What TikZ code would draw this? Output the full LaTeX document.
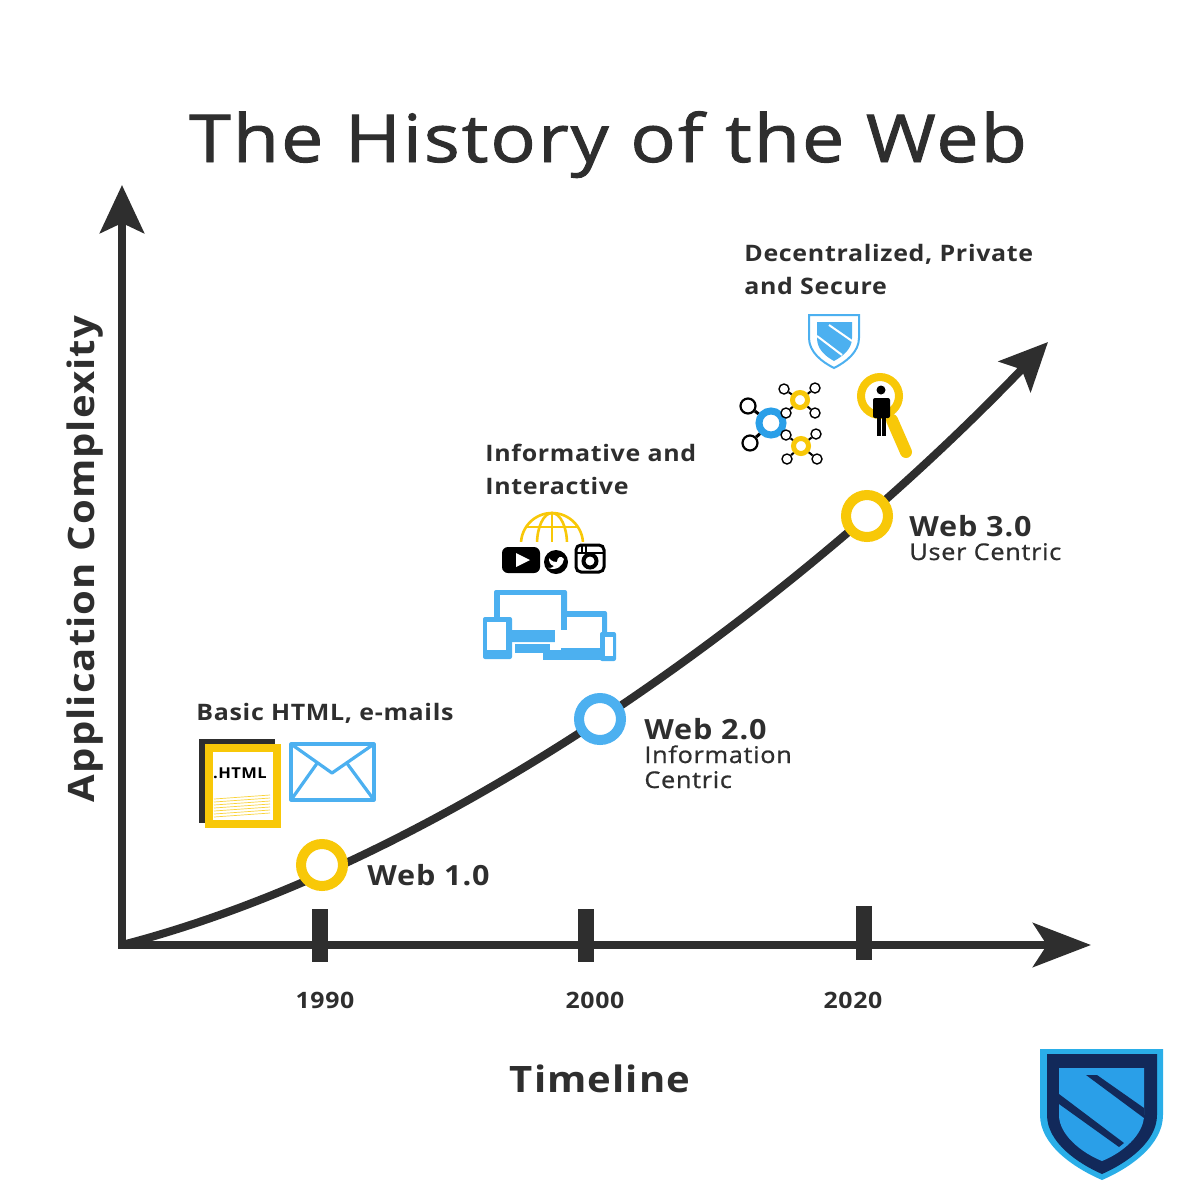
\documentclass[tikz,border=0pt]{standalone}
\usepackage{fontspec}
\setmainfont{Open Sans}[LetterSpace=3,FakeStretch=1.1]
\newfontfamily\titlefont{Open Sans}[LetterSpace=3,FakeStretch=1.14,FakeBold=1.4]
\newfontfamily\subfont{Open Sans}[LetterSpace=3,FakeStretch=1.1,FakeBold=0.8]
\usetikzlibrary{arrows.meta}
\definecolor{ink}{HTML}{2E2E2E}
\definecolor{gold}{HTML}{F8C808}
\definecolor{sky}{HTML}{4CB0F0}
\definecolor{navy}{HTML}{12295A}
\definecolor{crest}{HTML}{2A9FE8}
\definecolor{rim}{HTML}{2AAEE8}
\tikzset{
	axisline/.style={draw=ink,line width=4pt,-{Stealth[length=24pt,width=22pt,inset=5pt]}},
	timeline/.style={draw=ink,line width=4pt,-{Stealth[length=29pt,width=22pt,inset=7pt]}},
	ticklabel/.style={anchor=base,font=\fontsize{11.3}{13}\selectfont\bfseries,text=ink,inner sep=0pt},
	era/.style={anchor=base west,font=\fontsize{13.9}{17}\selectfont\bfseries,text=ink,inner sep=0pt},
	note/.style={anchor=base west,font=\fontsize{11.35}{14}\selectfont\bfseries,text=ink,inner sep=0pt},
	sub/.style={anchor=base west,font=\fontsize{11.5}{14}\selectfont\subfont,text=ink,inner sep=0pt},
	ring/.style={circle,draw=#1,line width=5pt,minimum size=21pt,inner sep=0pt,fill=white},
	hub/.style={circle,draw=gold,line width=2.5pt,minimum size=7.5pt,inner sep=0pt,fill=white},
	leaf/.style={circle,draw=black,line width=.7pt,minimum size=5pt,inner sep=0pt,fill=white},
	bigleaf/.style={circle,draw=black,line width=1.1pt,minimum size=7.5pt,inner sep=0pt,fill=white},
	link/.style={draw=black,line width=1.5pt},
	twig/.style={draw=black,line width=1pt},
}
\begin{document}
\begin{tikzpicture}[x=0.5pt,y=-0.5pt]
	\useasboundingbox (0,0) rectangle (1200,1200);
	% title and axis names
	\node[anchor=base,inner sep=0pt,text=ink,font=\fontsize{33.1}{40}\selectfont\titlefont] (title) at (608,162) {The History of the Web};
	\node[anchor=base,inner sep=0pt,text=ink,rotate=90,font=\fontsize{18.2}{20}\selectfont\bfseries] (ylabel) at (94,559) {Application Complexity};
	\node[anchor=base,inner sep=0pt,text=ink,font=\fontsize{18.2}{20}\selectfont\bfseries] (xlabel) at (600,1092) {Timeline};
	% axes
	\coordinate (origin) at (122,945);
	\coordinate (ytop) at (122,185);
	\coordinate (xstart) at (118,945);
	\coordinate (xend) at (1091,945);
	\coordinate (curveend) at (1048,342);
	\draw[axisline] (origin) -- (ytop);
	\draw[timeline] (xstart) -- (xend);
	\draw[ink,line width=8pt] (320,909) -- (320,962);
	\draw[ink,line width=8pt] (586,909) -- (586,962);
	\draw[ink,line width=8pt] (864,906) -- (864,960);
	\node[ticklabel] (y1990) at (325,1008) {1990};
	\node[ticklabel] (y2000) at (595,1008) {2000};
	\node[ticklabel] (y2020) at (853,1008) {2020};
	% growth curve
	\draw[axisline] (origin) .. controls (450,860) and (800,600) .. (curveend);
	\node[ring=gold] (web1) at (322,865) {};
	\node[ring=sky] (web2) at (600,719) {};
	\node[ring=gold] (web3) at (867,516) {};
	\node[era] (web1name) at (367,885) {Web 1.0};
	\node[era] (web2name) at (644,739) {Web 2.0};
	\node[sub] (web2sub) at (644,763) {Information};
	\node[sub] (web2subb) at (644,788) {Centric};
	\node[era] (web3name) at (909,536) {Web 3.0};
	\node[sub] (web3sub) at (909,560) {User Centric};
	% notes
	\node[note] (basic) at (196,720) {Basic HTML, e-mails};
	\node[note] (info) at (485,461) {Informative and};
	\node[note] (infob) at (485,494) {Interactive};
	\node[note] (dec) at (744,261) {Decentralized, Private};
	\node[note] (decb) at (744,294) {and Secure};
	% html page
	\fill[ink] (199,739) rectangle (275,823);
	\draw[gold,line width=4pt,fill=white] (209,748) rectangle (277,824);
	\foreach \i in {0,...,6}
		\draw[gold!80,line width=.35pt] (214,{799+\i*3}) -- (270,{795+\i*3});
	\node[inner sep=0pt,font=\fontsize{7.5}{9}\selectfont\bfseries] (html) at (240,773) {.HTML};
	% envelope
	\draw[sky,line width=1.6pt,line join=round] (291,744) rectangle (374,800);
	\draw[sky,line width=1.6pt,line join=round] (291,744) -- (332,773) -- (374,744);
	\draw[sky,line width=1.6pt] (318,762) -- (291,800);
	\draw[sky,line width=1.6pt] (346,762) -- (374,800);
	% globe
	\begin{scope}
		\clip (515,510) rectangle (590,541);
		\draw[gold,line width=1.3pt] (552,544) circle (31);
		\draw[gold,line width=1.3pt] (552,544) ellipse (15 and 31);
		\draw[gold,line width=1.3pt] (552,513) -- (552,544);
		\draw[gold,line width=1.3pt] (526,527) -- (578,527);
	\end{scope}
	% social icons
	\fill[black,rounded corners=3pt] (502,547) rectangle (540,573);
	\fill[white] (516,553) -- (530,560) -- (516,567) -- cycle;
	\fill[black] (556,562) circle (12);
	\fill[white] (549,558) .. controls (552,562) and (555,562) .. (557,562) .. controls (557,557) and (561,555) .. (564,559) .. controls (563,566) and (557,571) .. (548,568) .. controls (552,568) and (553,567) .. (554,566) .. controls (550,565) and (549,562) .. (549,558) -- cycle;
	\draw[black,line width=1.5pt,rounded corners=2.5pt,fill=white] (576,545) rectangle (604,572);
	\draw[black,line width=1.3pt] (576,553) -- (604,553);
	\draw[black,line width=2pt] (590,561) circle (6.5);
	\fill[black] (581,546) rectangle (583,553);
	\fill[black] (585,546) rectangle (587,553);
	% devices
	\fill[sky,rounded corners=1pt] (494,590) rectangle (567,642);
	\fill[white] (500,595) rectangle (561,630);
	\fill[sky,rounded corners=1pt] (561,611) rectangle (607,652);
	\fill[white] (567,617) rectangle (602,648);
	\fill[white] (555,630) rectangle (567,648);
	\fill[sky] (515,644) rectangle (550,653);
	\fill[sky] (543,650) rectangle (607,660);
	\fill[sky,rounded corners=1pt] (483,617) rectangle (512,659);
	\fill[white] (487,622) rectangle (506,650);
	\fill[sky,rounded corners=1pt] (600,632) rectangle (616,661);
	\fill[white] (605,637) rectangle (613,656);
	% network
	\node[hub] (hubtop) at (800,400) {};
	\node[hub] (hubbot) at (801,446) {};
	\node[circle,draw=crest,line width=3.5pt,minimum size=12pt,inner sep=0pt,fill=white] (hubmain) at (771,423) {};
	\node[bigleaf] (mainA) at (748,406) {};
	\node[bigleaf] (mainB) at (750,443) {};
	\node[leaf] (topA) at (784,389) {};
	\node[leaf] (topB) at (815,388) {};
	\node[leaf] (topC) at (786,413) {};
	\node[leaf] (topD) at (815,413) {};
	\node[leaf] (botA) at (786,435) {};
	\node[leaf] (botB) at (816,434) {};
	\node[leaf] (botC) at (787,459) {};
	\node[leaf] (botD) at (817,459) {};
	\draw[link] (hubmain) -- (mainA);
	\draw[link] (hubmain) -- (mainB);
	\foreach \n in {topA,topB,topC,topD}
		\draw[twig] (hubtop) -- (\n);
	\foreach \n in {botA,botB,botC,botD}
		\draw[twig] (hubbot) -- (\n);
	% magnifier and person
	\draw[gold,line width=6pt,line cap=round] (892,420) -- (906,452);
	\draw[gold,line width=4pt] (880,396) circle (19);
	\fill[black] (881,390) circle (4.5);
	\fill[black,rounded corners=1pt] (873,398) rectangle (890,418);
	\fill[black] (877,410) rectangle (881,436);
	\fill[black] (882,410) rectangle (886,436);
	% small shield
	\draw[sky,line width=1pt,fill=white] (809,315) -- (859,315) -- (859,338) .. controls (859,352) and (846,362) .. (834,368) .. controls (822,362) and (809,352) .. (809,338) -- cycle;
	\fill[sky] (817,322) -- (852,322) -- (852,338) .. controls (852,349) and (843,356) .. (834,361) .. controls (825,356) and (817,349) .. (817,338) -- cycle;
	\draw[white,line width=1pt] (829,325) -- (852,341);
	\draw[white,line width=1pt] (817,336) -- (842,355);
	% big shield
	\fill[rim] (1040,1049) -- (1163,1049) -- (1163,1115) .. controls (1163,1145) and (1130,1168) .. (1102,1180) .. controls (1074,1168) and (1040,1145) .. (1040,1115) -- cycle;
	\fill[navy] (1047,1054) -- (1157,1054) -- (1157,1115) .. controls (1157,1142) and (1127,1163) .. (1102,1174) .. controls (1077,1163) and (1047,1142) .. (1047,1115) -- cycle;
	\fill[crest] (1059,1068) -- (1144,1068) -- (1144,1115) .. controls (1144,1135) and (1122,1153) .. (1102,1161) .. controls (1082,1153) and (1059,1135) .. (1059,1115) -- cycle;
	\fill[navy] (1086,1075) -- (1097,1075) -- (1144,1108) -- (1144,1118) -- cycle;
	\fill[navy] (1059,1094) -- (1124,1143) -- (1119,1147) -- (1059,1104) -- cycle;
\end{tikzpicture}
\end{document}
